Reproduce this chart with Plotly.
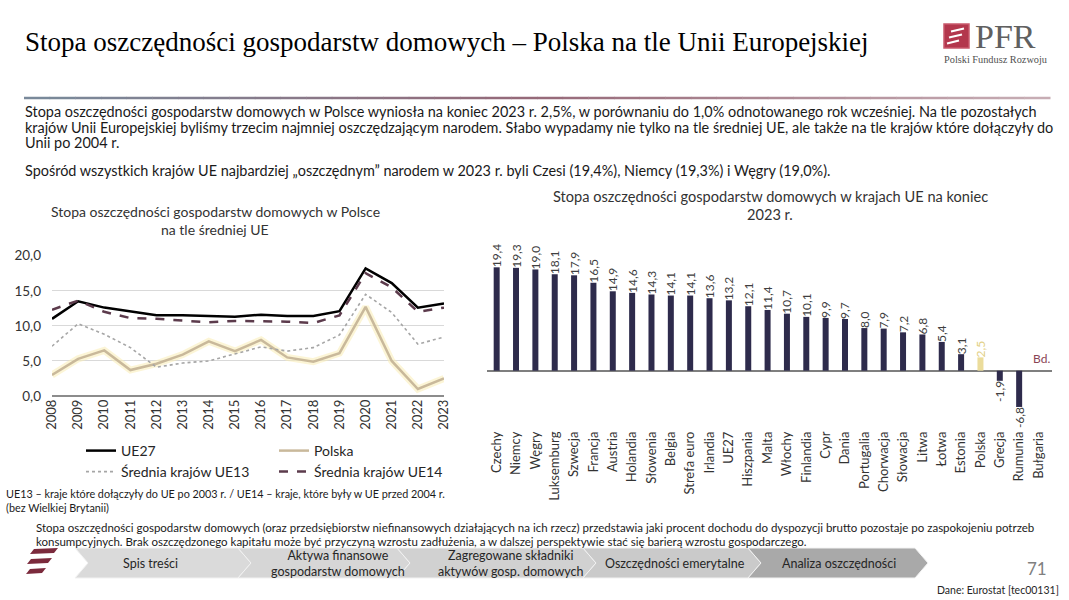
import plotly.graph_objects as go

W, H = 1069, 600
def px(x): return x / W
def py(y): return 1 - y / H

FONT = "Lato, Carlito, Calibri, sans-serif"
SERIF = "Liberation Serif, Times New Roman, serif"

# ---------------- data ----------------
years = [str(y) for y in range(2008, 2024)]
ue27 = [11.0, 13.5, 12.6, 12.1, 11.5, 11.5, 11.4, 11.3, 11.6, 11.4, 11.4, 12.1, 18.2, 16.1, 12.6, 13.2]
polska = [3.0, 5.3, 6.5, 3.7, 4.6, 5.9, 7.8, 6.4, 8.0, 5.5, 4.9, 6.1, 12.7, 5.0, 1.0, 2.5]
ue13 = [7.1, 10.3, 8.8, 6.9, 4.1, 4.7, 5.0, 6.0, 7.0, 6.4, 6.9, 8.7, 14.5, 11.9, 7.4, 8.4]
ue14 = [12.3, 13.6, 12.0, 11.1, 11.0, 10.8, 10.5, 10.7, 10.7, 10.6, 10.4, 11.5, 17.5, 15.5, 12.0, 12.6]

countries = ["Czechy", "Niemcy", "Węgry", "Luksemburg", "Szwecja", "Francja", "Austria",
             "Holandia", "Słowenia", "Belgia", "Strefa euro", "Irlandia", "UE27", "Hiszpania",
             "Malta", "Włochy", "Finlandia", "Cypr", "Dania", "Portugalia", "Chorwacja",
             "Słowacja", "Litwa", "Łotwa", "Estonia", "Polska", "Grecja", "Rumunia", "Bułgaria"]
rates = [19.4, 19.3, 19.0, 18.1, 17.9, 16.5, 14.9, 14.6, 14.3, 14.1, 14.1, 13.6, 13.2, 12.1,
         11.4, 10.7, 10.1, 9.9, 9.7, 8.0, 7.9, 7.2, 6.8, 5.4, 3.1, 2.5, -1.9, -6.8, None]
highlight = "Polska"

nav_labels = ["Spis treści", "Aktywa finansowe<br>gospodarstw domowych",
              "Zagregowane składniki<br>aktywów gosp. domowych", "Oszczędności emerytalne",
              "Analiza oszczędności"]

# ---------------- figure ----------------
fig = go.Figure()

# left chart: lines
fig.add_trace(go.Scatter(x=years, y=polska, mode="lines", line=dict(color="rgba(250,236,180,0.55)", width=7),
                         hoverinfo="skip", showlegend=False, xaxis="x", yaxis="y"))
fig.add_trace(go.Scatter(x=years, y=ue27, name="UE27", mode="lines", line=dict(color="#000000", width=2.5),
                         legend="legend", xaxis="x", yaxis="y"))
fig.add_trace(go.Scatter(x=years, y=polska, name="Polska", mode="lines", line=dict(color="#c9b99b", width=2.5),
                         legend="legend", xaxis="x", yaxis="y"))
fig.add_trace(go.Scatter(x=years, y=ue13, name="Średnia krajów UE13", mode="lines",
                         line=dict(color="#a6a6a6", width=1.6, dash="dot"), legend="legend2", xaxis="x", yaxis="y"))
fig.add_trace(go.Scatter(x=years, y=ue14, name="Średnia krajów UE14", mode="lines",
                         line=dict(color="#5c3b4c", width=2.5, dash="dash"), legend="legend2", xaxis="x", yaxis="y"))

# right chart: bars
bar_colors = ["#ebdc9b" if c == highlight else "#2e2b4c" for c in countries]
txt_colors = ["#e2cf85" if c == highlight else "#404040" for c in countries]
fig.add_trace(go.Bar(x=countries, y=rates, marker=dict(color=bar_colors, line=dict(width=0)), width=0.31,
                     texttemplate="%{y:.1f}", textposition="outside", textangle=-90, constraintext="none",
                     cliponaxis=False, textfont=dict(size=12, color=txt_colors, family=FONT),
                     showlegend=False, xaxis="x2", yaxis="y2"))

annotations = []
shapes = []

def text(x, y, s, size=13, color="#262626", family=FONT, xanchor="left", yanchor="middle", align="left"):
    annotations.append(dict(x=px(x), y=py(y), xref="paper", yref="paper", text=s, showarrow=False,
                            xanchor=xanchor, yanchor=yanchor, align=align,
                            font=dict(size=size, color=color, family=family)))

# header
text(23, 42, "Stopa oszczędności gospodarstw domowych – Polska na tle Unii Europejskiej", size=27,
     color="#000000", family=SERIF)
# gradient line under header
def lerp(c1, c2, t):
    return tuple(int(round(a + (b - a) * t)) for a, b in zip(c1, c2))
stops = [(0.0, (120, 138, 155)), (0.5, (150, 105, 120)), (1.0, (200, 175, 182))]
x0, x1, n = 24, 1050, 40
for i in range(n):
    t = (i + 0.5) / n
    if t <= 0.5:
        c = lerp(stops[0][1], stops[1][1], t / 0.5)
    else:
        c = lerp(stops[1][1], stops[2][1], (t - 0.5) / 0.5)
    xa = x0 + (x1 - x0) * i / n
    xb = x0 + (x1 - x0) * (i + 1) / n
    shapes.append(dict(type="line", xref="paper", yref="paper", x0=px(xa), x1=px(xb + 0.5), y0=py(98), y1=py(98),
                       line=dict(color="rgb(%d,%d,%d)" % c, width=2.5)))

# PFR logo
shapes.append(dict(type="rect", xref="paper", yref="paper", x0=px(944), x1=px(969), y0=py(48), y1=py(24),
                   fillcolor="#b3374d", line=dict(color="#c95a6c", width=1.5)))
for (ya, xl, xr) in [(30, 951, 964), (36, 949, 962), (42, 947, 959)]:
    shapes.append(dict(type="line", xref="paper", yref="paper", x0=px(xl), x1=px(xr), y0=py(ya + 1.5), y1=py(ya - 1.5),
                       line=dict(color="#ffffff", width=2)))
text(973, 37, "PFR", size=34, color="#606060", family=SERIF)
text(942, 60, "Polski Fundusz Rozwoju", size=10.3, color="#505050", family=SERIF)

# paragraphs
para = [
    (111, "Stopa oszczędności gospodarstw domowych w Polsce wyniosła na koniec 2023 r. 2,5%, w porównaniu do 1,0% odnotowanego rok wcześniej. Na tle pozostałych"),
    (127, "krajów Unii Europejskiej byliśmy trzecim najmniej oszczędzającym narodem. Słabo wypadamy nie tylko na tle średniej UE, ale także na tle krajów które dołączyły do"),
    (143, "Unii po 2004 r."),
    (171, "Spośród wszystkich krajów UE najbardziej „oszczędnym” narodem w 2023 r. byli Czesi (19,4%), Niemcy (19,3%) i Węgry (19,0%)."),
]
for y, s in para:
    text(23, y, s, size=14.45, color="#1a1a1a")

# chart titles
text(215, 211, "Stopa oszczędności gospodarstw domowych w Polsce", size=14, color="#333333", xanchor="center")
text(215, 230, "na tle średniej UE", size=14, color="#333333", xanchor="center")
text(770, 196, "Stopa oszczędności gospodarstw domowych w krajach UE na koniec", size=14.6, color="#333333", xanchor="center")
text(770, 214, "2023 r.", size=14.6, color="#333333", xanchor="center")

# Bd. label
annotations.append(dict(x="Bułgaria", y=0, xref="x2", yref="y2", text="Bd.", showarrow=False,
                        yanchor="bottom", yshift=3, xshift=3, font=dict(size=12, color="#8a4455", family=FONT)))

# footnotes
text(4, 493, "UE13 – kraje które dołączyły do UE po 2003 r. / UE14 – kraje, które były w UE przed 2004 r.", size=10.8, color="#1a1a1a")
text(4, 507, "(bez Wielkiej Brytanii)", size=10.8, color="#1a1a1a")
text(34, 527, "Stopa oszczędności gospodarstw domowych (oraz przedsiębiorstw niefinansowych działających na ich rzecz) przedstawia jaki procent dochodu do dyspozycji brutto pozostaje po zaspokojeniu potrzeb", size=11.5, color="#1a1a1a")
text(34, 541, "konsumpcyjnych. Brak oszczędzonego kapitału może być przyczyną wzrostu zadłużenia, a w dalszej perspektywie stać się barierą wzrostu gospodarczego.", size=11.5, color="#1a1a1a")

# nav chevrons
bounds = [75, 238, 397, 583, 748, 915]
fills = ["#dadada", "#d6d6d6", "#d1d1d1", "#cacaca", "#a9a9a9"]
centers = [150, 338, 510, 675, 839]
top, bot, d = 548, 578, 13
mid = (top + bot) / 2
for i in range(5):
    a, b = bounds[i], bounds[i + 1]
    path = "M{},{} L{},{} L{},{} L{},{} L{},{} L{},{} Z".format(
        px(a), py(top), px(b), py(top), px(b + d), py(mid), px(b), py(bot), px(a), py(bot), px(a + d), py(mid))
    shapes.append(dict(type="path", xref="paper", yref="paper", path=path, fillcolor=fills[i],
                       line=dict(color="#f2f2f2", width=1), layer="below"))
    text(centers[i], mid, nav_labels[i], size=12.5, color="#262626", xanchor="center", align="center")

# bottom-left logo stripes
for (yt, xl, xr) in [(549, 30, 58), (559, 27, 52), (569, 26, 46)]:
    path = "M{},{} L{},{} L{},{} L{},{} Z".format(px(xl + 4), py(yt), px(xr), py(yt - 1),
                                                  px(xr - 4), py(yt + 4), px(xl), py(yt + 5))
    shapes.append(dict(type="path", xref="paper", yref="paper", path=path, fillcolor="#7b2a3c",
                       line=dict(width=0)))

text(1037, 568, "71", size=17, color="#808080", xanchor="center")
text(1061, 590, "Dane: Eurostat [tec00131]", size=10.5, color="#262626", xanchor="right")

fig.update_layout(
    template="none",
    width=W, height=H,
    margin=dict(l=0, r=0, t=0, b=0),
    paper_bgcolor="#ffffff", plot_bgcolor="rgba(0,0,0,0)",
    separators=", ",
    font=dict(family=FONT, color="#404040"),
    hovermode=False,
    xaxis=dict(domain=[px(52), px(444)], type="category", tickangle=-90, tickfont=dict(size=13, color="#333333"),
               showgrid=False, showline=False, ticks="", automargin=False, anchor="y"),
    yaxis=dict(domain=[py(396), py(255.7)], range=[0, 20], dtick=5, tickformat=".1f",
               gridcolor="#d9d9d9", gridwidth=1, zeroline=True, zerolinecolor="#8c8c8c", zerolinewidth=1.5,
               tickfont=dict(size=13.5, color="#333333"), ticks="", ticklabelstandoff=10, automargin=False,
               anchor="x"),
    xaxis2=dict(domain=[px(487), px(1052)], type="category", tickangle=-90, tickfont=dict(size=13, color="#333333"),
                showgrid=False, showline=False, ticks="", automargin=False, anchor="y2"),
    yaxis2=dict(domain=[py(428), py(230)], range=[-10.75, 26.4], showticklabels=False, showgrid=False,
                zeroline=True, zerolinecolor="#7f7f7f", zerolinewidth=1.5, ticks="", automargin=False,
                anchor="x2"),
    bargap=0.69,
    legend=dict(x=px(81), y=py(451), xanchor="left", yanchor="middle", orientation="h",
                entrywidth=148, entrywidthmode="pixels", font=dict(size=14, color="#262626", family=FONT),
                bgcolor="rgba(0,0,0,0)", borderwidth=0),
    legend2=dict(x=px(81), y=py(472), xanchor="left", yanchor="middle", orientation="h",
                 entrywidth=148, entrywidthmode="pixels", font=dict(size=14, color="#262626", family=FONT),
                 bgcolor="rgba(0,0,0,0)", borderwidth=0),
    annotations=annotations,
    shapes=shapes,
)

fig.write_html("out.html", config={"displayModeBar": False},
               post_script="document.body.style.margin='0px';document.body.style.overflow='hidden';")
